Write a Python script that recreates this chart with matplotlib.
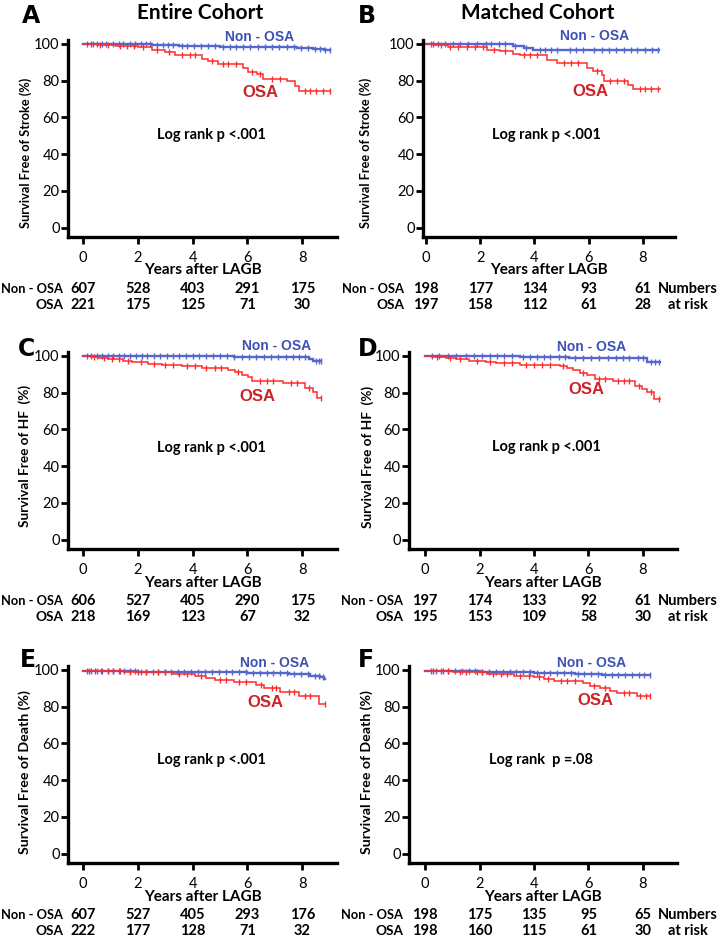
import numpy as np
import matplotlib.pyplot as plt

plt.rcParams['font.family'] = ['Lato', 'DejaVu Sans']

# ---- Kaplan-Meier step data (years, % event-free) ----
# A: stroke, entire cohort
a_non_t = [0, 1.0, 2.5, 3.5, 5.0, 6.8, 7.8, 8.4, 8.8, 9.0]
a_non_s = [100, 99.6, 99.2, 98.8, 98.4, 98.1, 97.7, 97.0, 96.3, 96.3]
a_non_c = [0.15, 0.35, 0.5, 0.7, 0.85, 1.1, 1.3, 1.45, 1.7, 1.9, 2.1, 2.3, 2.45, 2.7, 2.9, 3.1,
           3.3, 3.6, 3.8, 4.05, 4.3, 4.55, 4.8, 5.1, 5.35, 5.6, 5.85, 6.1, 6.4, 6.65, 6.9,
           7.15, 7.45, 7.7, 7.95, 8.2, 8.45, 8.65, 8.85, 9.0]
a_osa_t = [0, 0.5, 1.2, 2.0, 2.5, 3.0, 3.35, 4.33, 4.57, 4.94, 5.85, 6.03, 6.34, 6.58, 7.45,
           7.74, 7.9, 9.0]
a_osa_s = [100, 99.3, 98.8, 98.2, 96.7, 95.5, 94.0, 91.8, 90.4, 89.0, 86.8, 84.6, 83.5, 81.0,
           79.5, 76.8, 74.5, 74.5]
a_osa_c = [0.3, 0.6, 0.9, 1.35, 1.6, 1.85, 2.2, 2.7, 3.15, 3.6, 3.9, 4.1, 4.7, 5.1, 5.3, 5.6,
           6.15, 6.45, 6.9, 7.2, 8.1, 8.3, 8.5, 8.75, 9.0]

# B: stroke, matched cohort
b_non_t = [0, 1.5, 3.2, 3.6, 3.96, 8.6]
b_non_s = [100, 99.6, 98.8, 97.8, 96.8, 96.8]
b_non_c = [0.2, 0.45, 0.7, 1.0, 1.25, 1.55, 1.9, 2.2, 2.4, 2.7, 2.9, 3.3, 3.7, 4.2, 4.4,
           4.6, 4.85, 5.3, 5.55, 5.8, 6.2, 6.5, 6.75, 7.0, 7.3, 7.55, 7.8, 8.1, 8.35, 8.55]
b_osa_t = [0, 0.3, 0.8, 2.24, 2.73, 3.2, 3.47, 4.45, 4.82, 5.93, 6.17, 6.48, 6.58, 7.47, 7.65,
           8.64]
b_osa_s = [100, 99.3, 98.2, 96.7, 95.8, 94.4, 93.7, 91.3, 89.5, 86.8, 85.0, 83.2, 80.0, 77.7,
           75.5, 75.5]
b_osa_c = [0.25, 0.55, 0.9, 1.2, 1.5, 1.8, 2.1, 2.5, 2.9, 3.6, 3.85, 4.1, 5.1, 5.35, 5.6,
           6.3, 6.8, 7.05, 7.3, 7.9, 8.1, 8.3, 8.55]

# C: heart failure, entire cohort
c_non_t = [0, 3.0, 5.5, 8.25, 8.4, 8.7]
c_non_s = [100, 99.8, 99.4, 98.2, 97.0, 97.0]
c_non_c = [0.15, 0.3, 0.5, 0.7, 0.9, 1.1, 1.3, 1.5, 1.7, 1.95, 2.15, 2.35, 2.6, 2.8, 3.05,
           3.3, 3.5, 3.75, 4.0, 4.25, 4.5, 4.75, 5.0, 5.25, 5.5, 5.8, 6.05, 6.3, 6.6, 6.85,
           7.1, 7.4, 7.65, 7.9, 8.1, 8.5, 8.6, 8.7]
c_osa_t = [0, 0.3, 0.56, 0.92, 1.47, 1.78, 2.38, 2.87, 3.6, 4.33, 5.3, 5.55, 5.79, 6.03, 6.16,
           7.31, 8.1, 8.4, 8.53, 8.7]
c_osa_s = [100, 99.2, 98.7, 98.2, 97.3, 96.5, 95.6, 95.1, 94.2, 93.3, 92.3, 91.1, 89.6, 88.2,
           86.5, 85.2, 82.7, 80.5, 76.9, 76.9]
c_osa_c = [0.4, 0.75, 1.05, 1.3, 1.65, 2.1, 2.6, 3.0, 3.3, 3.8, 4.1, 4.5, 4.8, 5.05, 5.65,
           6.45, 6.7, 6.95, 7.6, 7.8, 8.25, 8.7]

# D: heart failure, matched cohort
d_non_t = [0, 3.47, 5.3, 8.14, 8.63]
d_non_s = [100, 99.5, 98.7, 96.5, 96.5]
d_non_c = [0.25, 0.5, 0.85, 1.15, 1.5, 1.8, 2.1, 2.4, 2.65, 2.9, 3.2, 3.6, 3.85, 4.1, 4.35,
           4.6, 4.9, 5.15, 5.5, 5.8, 6.1, 6.4, 6.7, 7.0, 7.25, 7.5, 7.8, 8.0, 8.3, 8.45, 8.6]
d_osa_t = [0, 0.27, 0.76, 1.13, 1.62, 2.24, 2.6, 3.47, 4.94, 5.2, 5.44, 5.68, 5.93, 6.24, 6.9,
           7.71, 7.96, 8.14, 8.39, 8.63]
d_osa_s = [100, 99.2, 98.7, 98.2, 97.3, 96.5, 96.0, 95.1, 94.2, 93.3, 92.0, 90.5, 89.3, 87.4,
           86.0, 83.8, 82.0, 80.1, 76.5, 76.5]
d_osa_c = [0.45, 0.9, 1.3, 1.9, 2.4, 2.9, 3.2, 3.7, 4.0, 4.3, 4.6, 5.05, 5.8, 6.4, 6.6, 7.1,
           7.3, 7.5, 7.85, 8.3, 8.6]

# E: death, entire cohort
e_non_t = [0, 2.0, 4.0, 6.0, 7.5, 8.3, 8.65, 8.8, 8.85]
e_non_s = [99.5, 99.0, 98.5, 98.0, 97.4, 96.8, 95.8, 94.8, 94.8]
e_non_c = [0.15, 0.3, 0.5, 0.7, 0.9, 1.1, 1.3, 1.5, 1.7, 1.9, 2.1, 2.3, 2.55, 2.75, 3.0,
           3.2, 3.45, 3.7, 3.95, 4.2, 4.45, 4.7, 4.95, 5.2, 5.45, 5.7, 5.95, 6.2, 6.45, 6.7,
           6.95, 7.2, 7.45, 7.7, 7.95, 8.2, 8.45, 8.6, 8.75]
e_osa_t = [0, 1.5, 2.5, 3.3, 4.1, 4.5, 4.8, 5.5, 6.3, 6.6, 7.2, 7.9, 8.6, 8.85]
e_osa_s = [99.5, 99.0, 98.5, 97.8, 96.8, 95.5, 94.3, 93.4, 91.5, 90.0, 87.8, 85.5, 81.5, 81.5]
e_osa_c = [0.2, 0.45, 0.65, 0.9, 1.1, 1.35, 1.7, 2.0, 2.3, 2.75, 3.0, 3.5, 3.8, 4.3, 5.0,
           5.2, 5.7, 5.95, 6.5, 6.9, 7.05, 7.5, 7.7, 8.1, 8.3, 8.85]

# F: death, matched cohort
f_non_t = [0, 2.0, 4.0, 5.5, 6.5, 8.27]
f_non_s = [99.5, 99.0, 98.3, 97.8, 97.2, 97.2]
f_non_c = [0.2, 0.4, 0.65, 0.85, 1.1, 1.35, 1.6, 1.85, 2.1, 2.35, 2.6, 2.85, 3.1, 3.35, 3.6,
           3.85, 4.1, 4.35, 4.6, 4.85, 5.1, 5.35, 5.6, 5.85, 6.1, 6.35, 6.6, 6.85, 7.1, 7.35,
           7.6, 7.85, 8.05, 8.25]
f_osa_t = [0, 1.04, 1.65, 2.27, 3.25, 4.0, 4.35, 4.72, 5.8, 6.07, 6.43, 6.8, 7.05, 7.78, 8.27]
f_osa_s = [99.5, 98.9, 98.5, 97.6, 96.7, 95.8, 94.9, 94.0, 92.7, 91.2, 89.8, 88.5, 87.6,
           85.8, 85.8]
f_osa_c = [0.3, 0.6, 0.85, 1.3, 1.5, 1.9, 2.1, 2.5, 2.8, 3.0, 3.5, 3.8, 4.2, 4.5, 5.0, 5.2,
           5.5, 6.2, 6.6, 7.3, 7.5, 7.9, 8.1, 8.27]

# ---- numbers at risk at years 0, 2, 4, 6, 8 ----
risk_years = [0, 2, 4, 6, 8]
a_risk_non = [607, 528, 403, 291, 175]
a_risk_osa = [221, 175, 125, 71, 30]
b_risk_non = [198, 177, 134, 93, 61]
b_risk_osa = [197, 158, 112, 61, 28]
c_risk_non = [606, 527, 405, 290, 175]
c_risk_osa = [218, 169, 123, 67, 32]
d_risk_non = [197, 174, 133, 92, 61]
d_risk_osa = [195, 153, 109, 58, 30]
e_risk_non = [607, 527, 405, 293, 176]
e_risk_osa = [222, 177, 128, 71, 32]
f_risk_non = [198, 175, 135, 95, 65]
f_risk_osa = [198, 160, 115, 61, 30]

letters = ['A', 'B', 'C', 'D', 'E', 'F']
ylabels = ['Survival Free of Stroke (%)', 'Survival Free of Stroke (%)',
           'Survival Free of HF  (%)', 'Survival Free of HF  (%)',
           'Survival Free of Death (%)', 'Survival Free of Death (%)']
pvalues = ['Log rank p <.001', 'Log rank p <.001', 'Log rank p <.001',
           'Log rank p <.001', 'Log rank p <.001', 'Log rank  p =.08']

BLUE_LINE = '#5566cc'
RED_LINE = '#ff2b2b'
BLUE_TXT = '#3f51b5'
RED_TXT = '#cc2229'


def km(ax, t, s, cens, color, lw):
    t = np.asarray(t)
    s = np.asarray(s)
    ax.step(t, s, where='post', color=color, lw=lw, solid_joinstyle='miter')
    idx = np.searchsorted(t, cens, side='right') - 1
    ax.plot(cens, s[np.clip(idx, 0, len(s) - 1)], ls='none', marker='|',
            ms=4, mew=1.0, color=color)


fig = plt.figure(figsize=(7.21, 9.38), dpi=100)
W, H = 721.0, 938.0

panels = [
    dict(left=68, right=337, bottom=237, xlim=(-0.55, 9.27), data=(a_non_t, a_non_s, a_non_c, a_osa_t, a_osa_s, a_osa_c),
         risk=(a_risk_non, a_risk_osa), non=(5.18, 103.8), osa=(5.8, 73.4), lr=(4.7, 50.5), ylc=(-0.134, 0.426), yls=9.2, right_col=False),
    dict(left=423, right=675, bottom=237, xlim=(-0.11, 9.19), data=(b_non_t, b_non_s, b_non_c, b_osa_t, b_osa_s, b_osa_c),
         risk=(b_risk_non, b_risk_osa), non=(4.94, 104.3), osa=(5.42, 73.9), lr=(4.43, 50.5), ylc=(-0.202, 0.426), yls=9.2, right_col=True),
    dict(left=68, right=337, bottom=549, xlim=(-0.55, 9.27), data=(c_non_t, c_non_s, c_non_c, c_osa_t, c_osa_s, c_osa_c),
         risk=(c_risk_non, c_risk_osa), non=(5.8, 105.3), osa=(5.7, 78.1), lr=(4.7, 49.6), ylc=(-0.138, 0.47), yls=9.8, right_col=False),
    dict(left=409, right=677, bottom=549, xlim=(-0.59, 9.25), data=(d_non_t, d_non_s, d_non_c, d_osa_t, d_osa_s, d_osa_c),
         risk=(d_risk_non, d_risk_osa), non=(4.84, 104.8), osa=(5.25, 81.4), lr=(4.44, 50.6), ylc=(-0.131, 0.467), yls=9.8, right_col=True),
    dict(left=68, right=337, bottom=863, xlim=(-0.55, 9.27), data=(e_non_t, e_non_s, e_non_c, e_osa_t, e_osa_s, e_osa_c),
         risk=(e_risk_non, e_risk_osa), non=(5.73, 103.4), osa=(6.0, 82.1), lr=(4.7, 50.9), ylc=(-0.138, 0.463), yls=10.2, right_col=False),
    dict(left=409, right=677, bottom=863, xlim=(-0.59, 9.25), data=(f_non_t, f_non_s, f_non_c, f_osa_t, f_osa_s, f_osa_c),
         risk=(f_risk_non, f_risk_osa), non=(4.84, 103.4), osa=(5.58, 83.4), lr=(4.27, 51.1), ylc=(-0.134, 0.463), yls=10.2, right_col=True),
]

AX_H = 197
RISK_FS = 10.5

for i, p in enumerate(panels):
    ax = fig.add_axes([p['left'] / W, 1 - p['bottom'] / H,
                       (p['right'] - p['left']) / W, AX_H / H])
    nt, ns, nc, ot, os_, oc = p['data']
    km(ax, nt, ns, nc, BLUE_LINE, 1.7)
    km(ax, ot, os_, oc, RED_LINE, 1.1)

    ax.set_xlim(*p['xlim'])
    ax.set_ylim(-5, 102)
    ax.set_xticks(risk_years)
    ax.set_yticks([0, 20, 40, 60, 80, 100])
    for side in ['top', 'right']:
        ax.spines[side].set_visible(False)
    for side in ['left', 'bottom']:
        ax.spines[side].set_linewidth(2.4)
    ax.tick_params(direction='out', length=5, width=2, labelsize=10.5)
    ax.tick_params(axis='x', pad=5)
    ax.tick_params(axis='y', pad=1)

    ax.set_ylabel(ylabels[i], fontsize=p['yls'], fontweight='bold')
    ax.yaxis.set_label_coords(*p['ylc'])
    ax.set_xlabel('Years after LAGB', fontsize=11, fontweight='bold', labelpad=-1)

    ax.text(*p['non'], 'Non - OSA', color=BLUE_TXT, fontsize=10, fontweight='bold',
            ha='left', va='center', family=['Liberation Sans'], clip_on=False)
    ax.text(*p['osa'], 'OSA', color=RED_TXT, fontsize=12, fontweight='bold',
            ha='left', va='center', family=['Liberation Sans'], clip_on=False)
    ax.text(*p['lr'], pvalues[i], fontsize=10.5, fontweight='bold', ha='center', va='center')

    # numbers at risk table
    tr = ax.get_xaxis_transform()
    rn, ro = p['risk']
    lab_x = -0.8 if p['right_col'] else -0.73
    row1, row2 = -0.262, -0.347
    ax.text(lab_x, row1, 'Non - OSA', transform=tr, ha='right', va='center',
            fontsize=9.3, fontweight='bold', clip_on=False)
    ax.text(lab_x, row2, 'OSA', transform=tr, ha='right', va='center',
            fontsize=9.8, fontweight='bold', clip_on=False)
    for yr, n1, n2 in zip(risk_years, rn, ro):
        ax.text(yr, row1, str(n1), transform=tr, ha='center', va='center',
                fontsize=RISK_FS, fontweight='bold', clip_on=False)
        ax.text(yr, row2, str(n2), transform=tr, ha='center', va='center',
                fontsize=RISK_FS, fontweight='bold', clip_on=False)
    if p['right_col']:
        ax.text(9.65, row1, 'Numbers', transform=tr, ha='center', va='center',
                fontsize=RISK_FS, fontweight='bold', clip_on=False)
        ax.text(9.65, row2, 'at risk', transform=tr, ha='center', va='center',
                fontsize=RISK_FS, fontweight='bold', clip_on=False)

# panel letters
letter_pos = [(22, 16), (358, 16), (18, 349), (358, 349), (20, 660), (358, 660)]
for L, (x, y) in zip(letters, letter_pos):
    fig.text(x / W, 1 - y / H, L, fontsize=17, fontweight='bold', ha='left', va='center',
             family=['DejaVu Sans'])

fig.text(200 / W, 1 - 13 / H, 'Entire Cohort', fontsize=15, fontweight='bold',
         ha='center', va='center')
fig.text(538 / W, 1 - 13 / H, 'Matched Cohort', fontsize=15, fontweight='bold',
         ha='center', va='center')

fig.savefig('out.png', dpi=100)
